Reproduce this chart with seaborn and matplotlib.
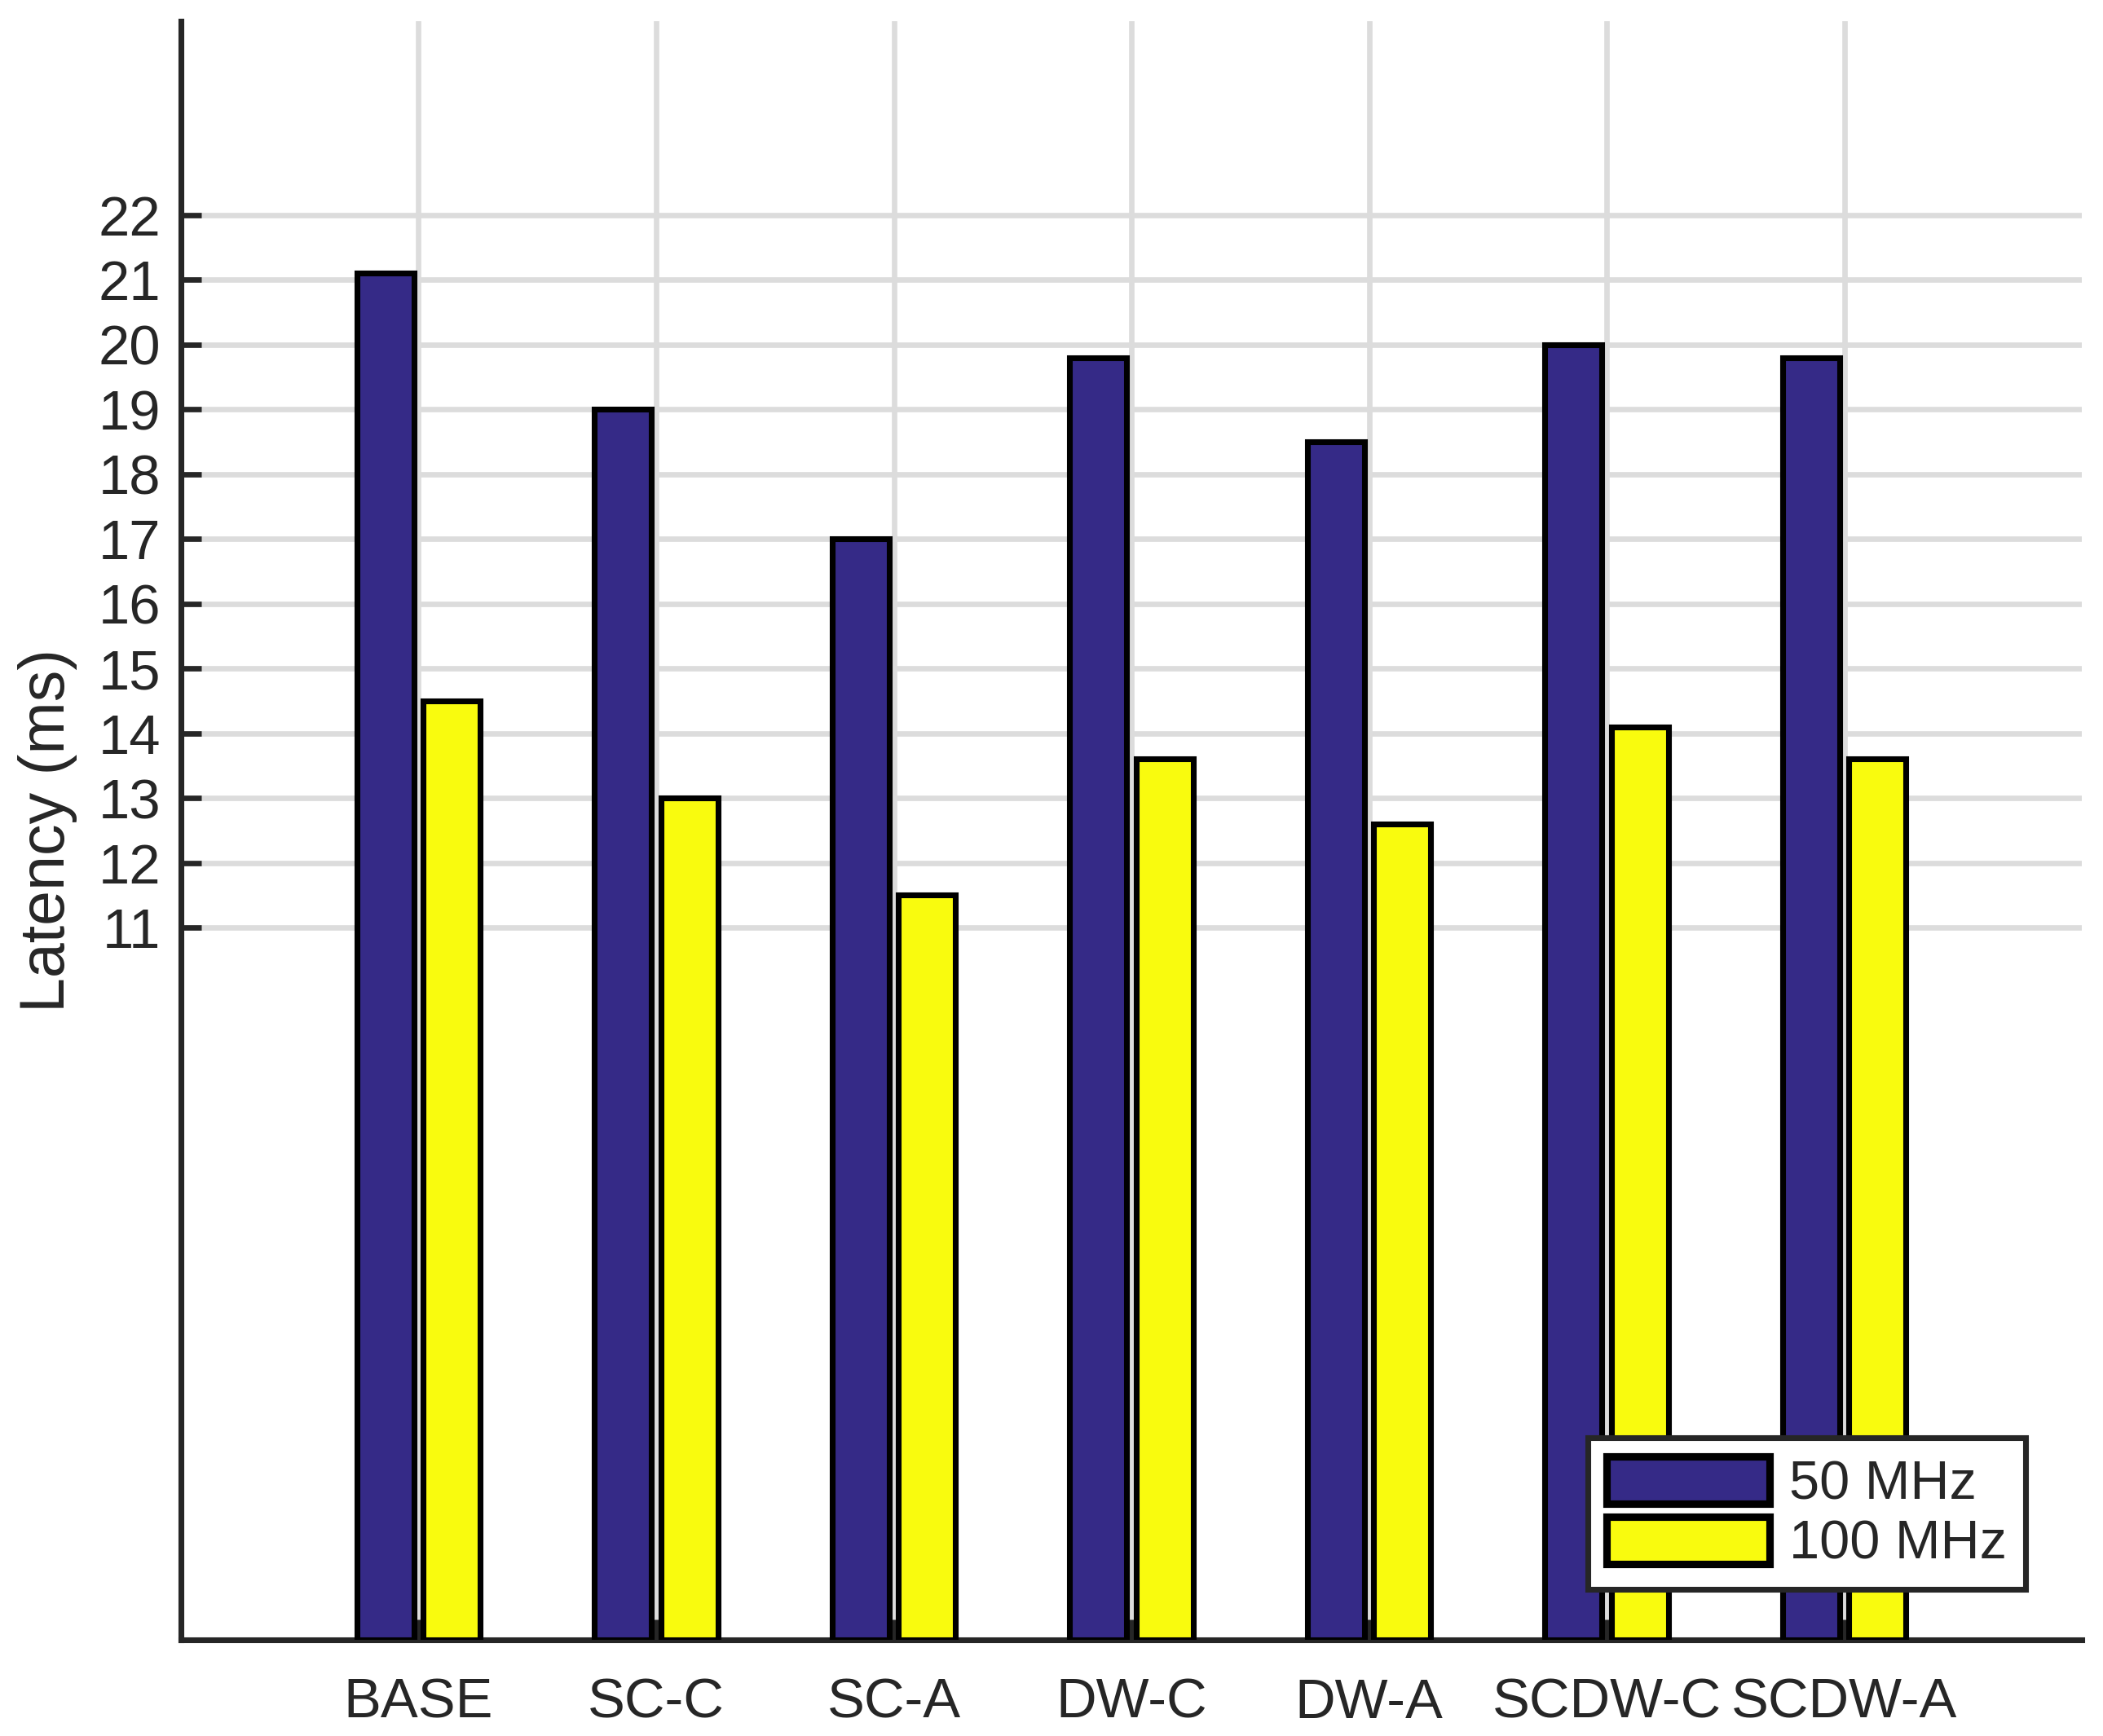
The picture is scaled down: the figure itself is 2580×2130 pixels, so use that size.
import matplotlib
matplotlib.use("Agg")
import matplotlib.pyplot as plt
import seaborn as sns
import pandas as pd

categories = ["BASE", "SC-C", "SC-A", "DW-C", "DW-A", "SCDW-C", "SCDW-A"]
lat_50mhz = [21.1, 19.0, 17.0, 19.8, 18.5, 20.0, 19.8]
lat_100mhz = [14.5, 13.0, 11.5, 13.6, 12.6, 14.1, 13.6]
series_names = ["50 MHz", "100 MHz"]
series_colors = ["#352A87", "#F9FB0E"]
yticks = [11, 12, 13, 14, 15, 16, 17, 18, 19, 20, 21, 22]

df = pd.DataFrame({
    "Scheme": categories * 2,
    "Latency": lat_50mhz + lat_100mhz,
    "Band": [series_names[0]] * len(categories) + [series_names[1]] * len(categories),
})

sns.set_theme(style="white")
plt.rcParams["font.family"] = ["Liberation Sans", "DejaVu Sans"]
dark = "#262626"

fig = plt.figure(figsize=(8.6, 7.1), dpi=300)
ax = fig.add_axes([0.086, 0.0554, 0.904, 0.9326])

sns.barplot(data=df, x="Scheme", y="Latency", hue="Band", order=categories,
            hue_order=series_names, palette=series_colors, width=0.56, gap=0.143,
            edgecolor="black", linewidth=1.7, saturation=1, ax=ax, zorder=3)

ax.set_xlim(-1, len(categories))
ax.set_ylim(0, 25)
ax.set_yticks(yticks)
ax.set_yticklabels([str(t) for t in yticks])
ax.set_xticks(range(len(categories)))
ax.set_xticklabels(categories)

ax.set_axisbelow(True)
ax.grid(True, color="#dcdcdc", linewidth=1.6)

for side in ["top", "right"]:
    ax.spines[side].set_visible(False)
for side in ["left", "bottom"]:
    ax.spines[side].set_color(dark)
    ax.spines[side].set_linewidth(1.7)

ax.tick_params(axis="both", direction="in", length=6, width=1.6, color=dark,
               labelcolor=dark, labelsize=16.5)
ax.tick_params(axis="y", pad=6, left=True)
ax.tick_params(axis="x", pad=11, bottom=True)

ax.set_xlabel("")
ax.set_ylabel("Latency (ms)", fontsize=18.5, color=dark, labelpad=6)

handles, labels = ax.get_legend_handles_labels()
if ax.get_legend() is not None:
    ax.get_legend().remove()
leg = ax.legend(handles, labels, loc="lower right", bbox_to_anchor=(0.9704, 0.0312),
                fontsize=16, frameon=True, fancybox=False, handlelength=3.0,
                handleheight=0.95, borderpad=0.35, labelspacing=0.12, handletextpad=0.35,
                borderaxespad=0)
leg.get_frame().set_edgecolor(dark)
leg.get_frame().set_linewidth(1.7)
leg.get_frame().set_alpha(1)
for h in leg.legend_handles:
    h.set_linewidth(2.2)
for t in leg.get_texts():
    t.set_color(dark)

fig.savefig("out.png", dpi=300, facecolor="white")
